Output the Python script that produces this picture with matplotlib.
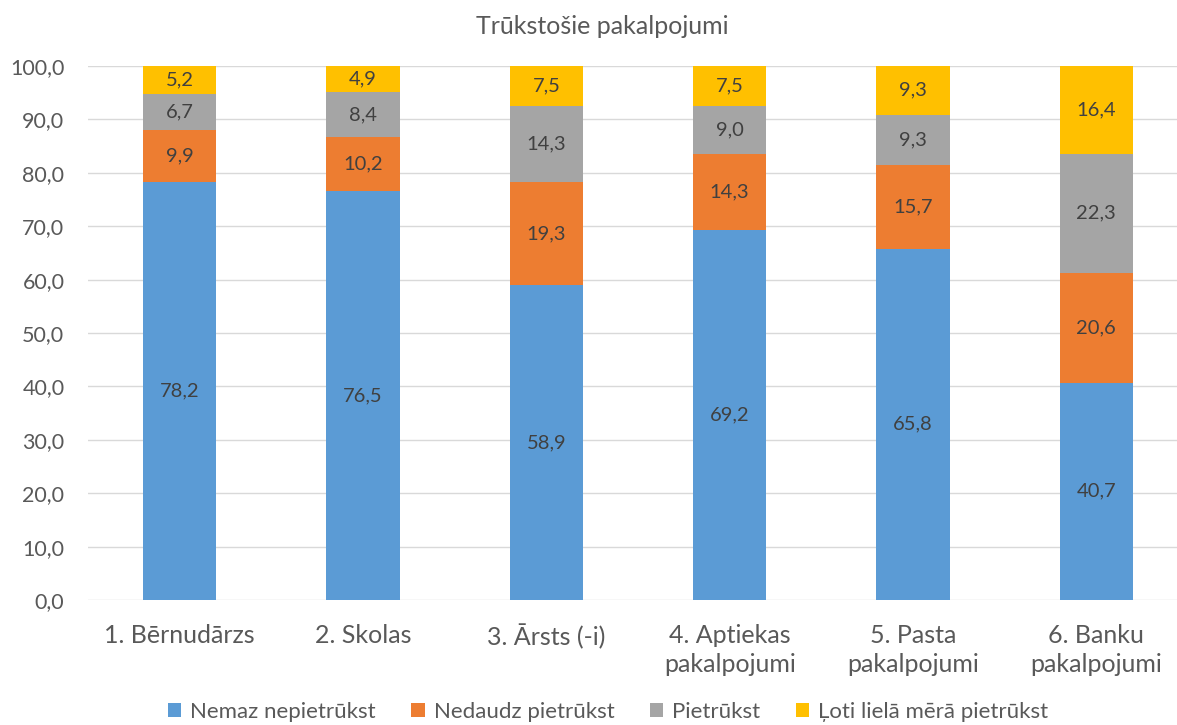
import matplotlib
matplotlib.use("Agg")
import numpy as np
import matplotlib.pyplot as plt

categories = ["1. Bērnudārzs", "2. Skolas", "3. Ārsts (-i)",
              "4. Aptiekas\npakalpojumi", "5. Pasta\npakalpojumi", "6. Banku\npakalpojumi"]
series_names = ["Nemaz nepietrūkst", "Nedaudz pietrūkst", "Pietrūkst", "Ļoti lielā mērā pietrūkst"]
nemaz = [78.2, 76.5, 58.9, 69.2, 65.8, 40.7]
nedaudz = [9.9, 10.2, 19.3, 14.3, 15.7, 20.6]
pietrukst = [6.7, 8.4, 14.3, 9.0, 9.3, 22.3]
loti = [5.2, 4.9, 7.5, 7.5, 9.3, 16.4]
colors = ["#5B9BD5", "#ED7D31", "#A5A5A5", "#FFC000"]
yticks = np.arange(0, 101, 10)

plt.rcParams['font.family'] = ['Lato', 'DejaVu Sans']
text_col = "#595959"

fig = plt.figure(figsize=(11.77, 7.25), dpi=100)
ax = fig.add_axes([88 / 1177, 1 - 600 / 725, 1100 / 1177, 534 / 725])

x = np.arange(len(categories))
bottom = np.zeros(len(categories))
for name, vals, c in zip(series_names, [nemaz, nedaudz, pietrukst, loti], colors):
    vals = np.array(vals)
    ax.bar(x, vals, width=0.4, bottom=bottom, color=c, label=name, zorder=3)
    for xi, b, v in zip(x, bottom, vals):
        ax.text(xi, b + v / 2, f"{v:.1f}".replace(".", ","), ha="center", va="center",
                fontsize=14.5, color="#404040", zorder=4)
    bottom += vals

ax.set_xlim(-0.5, 5.5)
ax.set_ylim(0, 100)
ax.set_yticks(yticks)
ax.set_yticklabels([f"{t:.1f}".replace(".", ",") for t in yticks], fontsize=15.5, color=text_col)
ax.set_xticks(x)
ax.set_xticklabels(categories, fontsize=18, color=text_col, linespacing=1.35)
ax.tick_params(axis="both", length=0)
ax.tick_params(axis="x", pad=17)
ax.tick_params(axis="y", pad=17)
ax.grid(axis="y", color="#D9D9D9", linewidth=1, zorder=0)
for s in ax.spines.values():
    s.set_visible(False)

fig.text(602 / 1177, 1 - 27 / 725, "Trūkstošie pakalpojumi", ha="center", va="center",
         fontsize=18, color=text_col)

leg = fig.legend(loc="center", bbox_to_anchor=(608 / 1177, 1 - 712 / 725), ncol=4,
                 frameon=False, fontsize=16, handlelength=0.6, handleheight=0.6,
                 handletextpad=0.4, columnspacing=1.6)
for t in leg.get_texts():
    t.set_color(text_col)

fig.savefig("out.png", dpi=100)
